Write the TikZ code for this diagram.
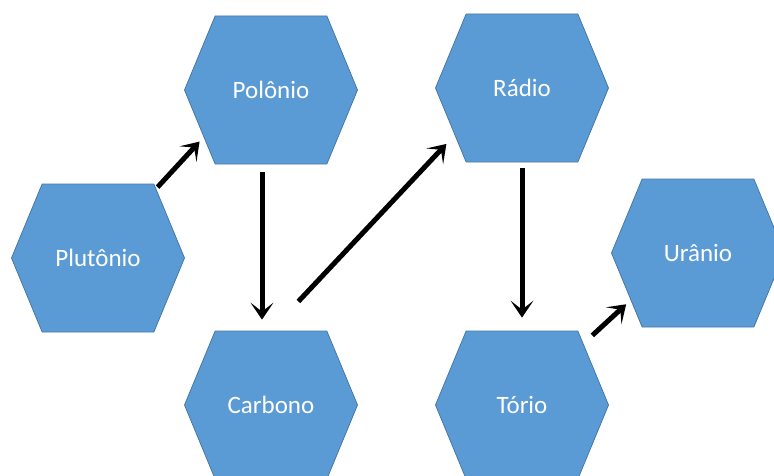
\documentclass[tikz,border=0pt]{standalone}
\usepackage{fontspec}
\setmainfont{Carlito}
\usetikzlibrary{arrows.meta,shapes.symbols}

\definecolor{hexblue}{RGB}{91,155,213}
\definecolor{hexedge}{RGB}{70,120,165}

\begin{document}
\begin{tikzpicture}[x=1pt,y=1pt,>={Stealth[length=17pt,width=23pt,inset=9pt]},
  elem/.style={signal,signal to=east and west,signal pointer angle=135,
    fill=hexblue,draw=hexedge,line width=0.8pt,
    minimum width=173pt,minimum height=148pt,inner sep=0pt,
    text=white,font=\fontsize{25}{28}\selectfont},
  arr/.style={->,line width=5pt}]

\useasboundingbox (0,0) rectangle (774,475);

% ---------- elements ----------
\node[elem] (plu) at (98,217)  {Plutônio};
\node[elem] (pol) at (271,385) {Polônio};
\node[elem] (car) at (271,70)  {Carbono};
\node[elem] (rad) at (522,387) {Rádio};
\node[elem] (tor) at (522,70)  {Tório};
\node[elem] (ura) at (698,222) {Urânio};

% ---------- decay chain ----------
\draw[arr,shorten <=2pt,shorten >=6pt] (plu.50) -- (pol.215);
\draw[arr,shorten <=8pt,shorten >=11pt] ([xshift=-9pt]pol.south) -- ([xshift=-9pt]car.north);
\draw[arr,shorten <=40pt,shorten >=12pt] (car.north) -- (rad.215);
\draw[arr,shorten <=6pt,shorten >=13pt] (rad.south) -- (tor.north);
\draw[arr,shorten <=12pt,shorten >=6pt] (tor.45) -- (ura.215);

\end{tikzpicture}
\end{document}
